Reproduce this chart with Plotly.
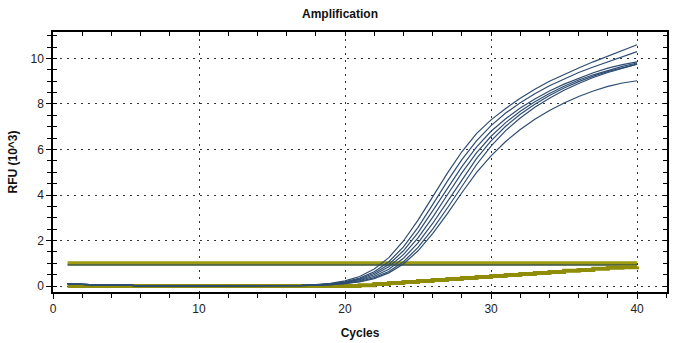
import plotly.graph_objects as go

cycles = list(range(1, 41))

# RFU (10^3) per cycle for each amplification curve
curve_a = [0.10, 0.06, 0.05, 0.05, 0.05, 0, 0, 0, 0, 0, 0, 0, 0, 0, 0, 0.01, 0.03, 0.06, 0.12, 0.23,
           0.42, 0.75, 1.25, 1.98, 2.9, 3.92, 4.95, 5.9, 6.7, 7.3, 7.8, 8.25, 8.65, 9.0, 9.3, 9.58, 9.85, 10.1, 10.35, 10.6]
curve_b = [0.10, 0.06, 0.05, 0.05, 0.05, 0, 0, 0, 0, 0, 0, 0, 0, 0, 0, 0.01, 0.03, 0.05, 0.1, 0.19,
           0.35, 0.63, 1.07, 1.72, 2.58, 3.58, 4.6, 5.55, 6.38, 7.05, 7.6, 8.05, 8.45, 8.8, 9.1, 9.38, 9.62, 9.85, 10.1, 10.3]
curve_c = [0.10, 0.06, 0.05, 0.05, 0.05, 0, 0, 0, 0, 0, 0, 0, 0, 0, 0, 0.01, 0.02, 0.05, 0.09, 0.17,
           0.31, 0.56, 0.95, 1.55, 2.35, 3.3, 4.3, 5.25, 6.1, 6.8, 7.35, 7.82, 8.22, 8.57, 8.87, 9.13, 9.37, 9.57, 9.73, 9.85]
curve_d = [0.10, 0.06, 0.05, 0.05, 0.05, 0, 0, 0, 0, 0, 0, 0, 0, 0, 0, 0.01, 0.02, 0.04, 0.08, 0.15,
           0.28, 0.5, 0.85, 1.38, 2.12, 3.02, 4.0, 4.97, 5.85, 6.58, 7.18, 7.68, 8.1, 8.46, 8.78, 9.05, 9.28, 9.48, 9.65, 9.8]
curve_e = [0.10, 0.06, 0.05, 0.05, 0.05, 0, 0, 0, 0, 0, 0, 0, 0, 0, 0, 0.01, 0.02, 0.04, 0.07, 0.13,
           0.24, 0.43, 0.74, 1.22, 1.9, 2.75, 3.7, 4.68, 5.6, 6.38, 7.02, 7.55, 7.99, 8.37, 8.7, 8.98, 9.22, 9.42, 9.6, 9.75]
curve_f = [0.10, 0.06, 0.05, 0.05, 0.05, 0, 0, 0, 0, 0, 0, 0, 0, 0, 0, 0.01, 0.02, 0.03, 0.06, 0.11,
           0.2, 0.37, 0.64, 1.07, 1.7, 2.5, 3.42, 4.4, 5.33, 6.15, 6.83, 7.38, 7.85, 8.25, 8.6, 8.9, 9.16, 9.38, 9.58, 9.75]
curve_g = [0.10, 0.06, 0.05, 0.05, 0.05, 0, 0, 0, 0, 0, 0, 0, 0, 0, 0, 0.01, 0.02, 0.03, 0.05, 0.1,
           0.18, 0.33, 0.58, 0.97, 1.55, 2.3, 3.17, 4.1, 4.98, 5.72, 6.35, 6.88, 7.33, 7.71, 8.04, 8.33, 8.57, 8.77, 8.92, 9.02]
curves = [curve_a, curve_b, curve_c, curve_d, curve_e, curve_f, curve_g]

threshold = [1.0] * 40
drift = [0, 0, 0, 0, 0, 0, 0, 0, 0, 0, 0, 0, 0, 0, 0, 0, 0, 0, 0, 0,
         0.04, 0.09, 0.13, 0.18, 0.22, 0.27, 0.31, 0.36, 0.4, 0.44, 0.49, 0.53, 0.58, 0.62, 0.67, 0.71, 0.76, 0.8, 0.83, 0.86]

fig = go.Figure()

fig.add_trace(go.Scatter(x=cycles, y=threshold, mode="lines",
                         line=dict(color="#9c9a10", width=4), hoverinfo="skip"))
fig.add_trace(go.Scatter(x=cycles, y=[v - 0.07 for v in threshold], mode="lines",
                         line=dict(color="#3e5a46", width=1.5), hoverinfo="skip"))
fig.add_trace(go.Scatter(x=cycles, y=drift, mode="lines", line_shape="hv",
                         line=dict(color="#8f8c08", width=4), hoverinfo="skip"))

for c in curves:
    fig.add_trace(go.Scatter(x=cycles, y=c, mode="lines",
                             line=dict(color="#2e4d72", width=1.2), hoverinfo="skip"))

tickfont = dict(family="Liberation Sans, Arial, sans-serif", size=12, color="#222222")
titlefont = dict(family="Liberation Sans, Arial, sans-serif", size=12, color="#111111")
GRIDDASH = "1.5px,5.5px"

fig.update_layout(
    width=680, height=343,
    margin=dict(l=53, r=13, t=32, b=51, autoexpand=False),
    paper_bgcolor="white", plot_bgcolor="white",
    showlegend=False,
    title=dict(text="<b>Amplification</b>", x=0.5, xanchor="center", y=1 - 14 / 343, yanchor="middle",
               font=titlefont),
    xaxis=dict(range=[0, 42.05], dtick=10, tick0=0, ticks="outside", ticklen=5, tickcolor="black",
               showline=True, linecolor="black", linewidth=1.5, mirror=True, automargin=False,
               showgrid=True, gridcolor="#333333", griddash=GRIDDASH, gridwidth=1.3,
               zeroline=False, tickfont=tickfont,
               minor=dict(dtick=2, ticks="outside", ticklen=4, tickcolor="black", showgrid=False),
               title=dict(text="<b>Cycles</b>", font=titlefont, standoff=13)),
    yaxis=dict(range=[-0.26, 11.16], dtick=2, tick0=0, ticks="outside", ticklen=5, tickcolor="black",
               showline=True, linecolor="black", linewidth=1.5, mirror=True, automargin=False,
               showgrid=True, gridcolor="#333333", griddash=GRIDDASH, gridwidth=1.3,
               zeroline=False, tickfont=tickfont,
               minor=dict(dtick=0.5, ticks="outside", ticklen=4, tickcolor="black", showgrid=False),
               title=dict(text="<b>RFU (10^3)</b>", font=titlefont, standoff=10)),
    xaxis2=dict(overlaying="x", side="top", matches="x", showticklabels=False, showgrid=False, automargin=False,
                ticks="inside", ticklen=4, tickcolor="black", dtick=2, tick0=0, zeroline=False),
    yaxis2=dict(overlaying="y", side="right", matches="y", showticklabels=False, showgrid=False, automargin=False,
                ticks="inside", ticklen=4, tickcolor="black", dtick=0.5, tick0=0, zeroline=False),
    yaxis3=dict(overlaying="y", side="left", matches="y", showticklabels=False, showgrid=False, automargin=False,
                ticks="inside", ticklen=4, tickcolor="black", dtick=0.5, tick0=0, zeroline=False),
)

# dummy traces to activate the secondary (tick-only) axes
fig.add_trace(go.Scatter(x=[None], y=[None], xaxis="x2", yaxis="y2", hoverinfo="skip"))
fig.add_trace(go.Scatter(x=[None], y=[None], xaxis="x", yaxis="y3", hoverinfo="skip"))

fig.write_html("out.html")
